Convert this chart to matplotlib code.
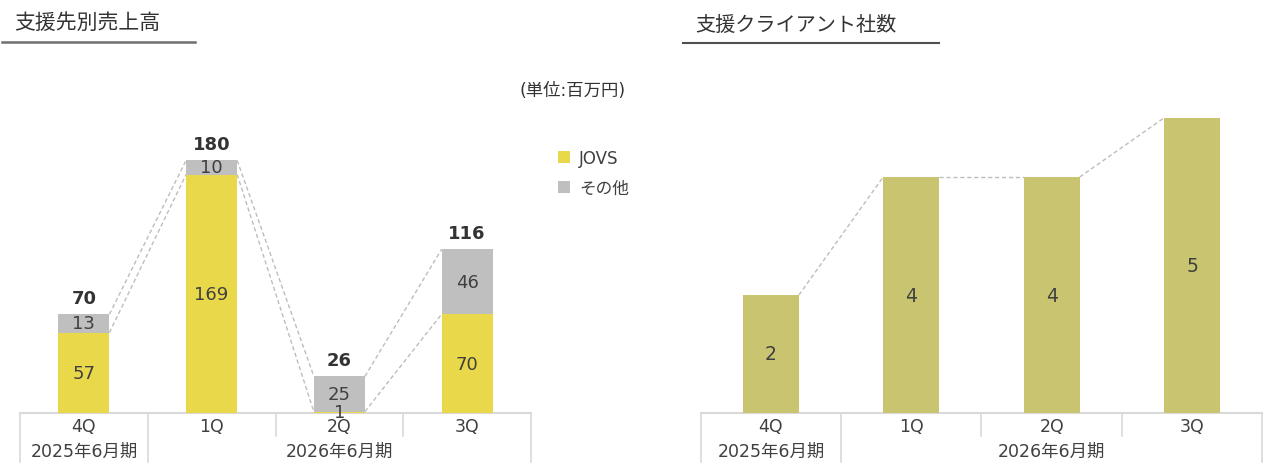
import matplotlib
matplotlib.use("Agg")
import matplotlib.pyplot as plt
import matplotlib.transforms as mtransforms
from matplotlib.lines import Line2D
import numpy as np

plt.rcParams['font.family'] = ['DejaVu Sans', 'Noto Sans CJK JP']

# data
quarters = ["4Q", "1Q", "2Q", "3Q"]
fiscal_years = ["2025年6月期", "2026年6月期"]
fy_groups = [[0], [1, 2, 3]]
jovs = [57, 169, 1, 70]
others = [13, 10, 25, 46]
totals = [70, 180, 26, 116]   # as printed (rounded)
clients = [2, 4, 4, 5]

YELLOW = "#E8D84A"
GRAY = "#BFBFBF"
OLIVE = "#C8C470"
TEXT = "#404040"
GRID = "#D9D9D9"

W, H = 1272, 477
fig = plt.figure(figsize=(W / 100, H / 100), dpi=100)

def fy(py):
    return 1 - py / H

BASE = 414

# left chart: 20..531 px, 1.411 px per unit
ax1 = fig.add_axes([20 / W, (H - BASE) / H, 511 / W, 200 * 254 / 180 / H])
ax1.set_xlim(-0.5, 3.5)
ax1.set_ylim(0, 200)
# right chart: 700.7..1262 px, 59 px per unit
ax2 = fig.add_axes([700.7 / W, (H - BASE) / H, 561.5 / W, 5.5 * 59 / H])
ax2.set_xlim(-0.5, 3.5)
ax2.set_ylim(0, 5.5)

for ax in (ax1, ax2):
    ax.axis("off")

x = np.arange(len(quarters))
bw = 0.4
tops = [a + b for a, b in zip(jovs, others)]

b1 = ax1.bar(x, jovs, width=bw, color=YELLOW, label="JOVS", zorder=3)
b2 = ax1.bar(x, others, width=bw, bottom=jovs, color=GRAY, label="その他", zorder=3)

for i in range(len(x)):
    ax1.text(x[i], jovs[i] / 2, str(jovs[i]), ha="center", va="center",
             fontsize=13, color=TEXT, zorder=5)
    ax1.text(x[i], jovs[i] + others[i] / 2, str(others[i]), ha="center", va="center",
             fontsize=13, color=TEXT, zorder=5)
    ax1.annotate(str(totals[i]), (x[i], tops[i]), xytext=(0, 5), textcoords="offset points",
                 ha="center", va="bottom", fontsize=13, fontweight="bold", color="#333333")

dash = dict(color="#BDBDBD", lw=1, ls=(0, (3, 2)), zorder=2)
for i in range(len(x) - 1):
    ax1.plot([x[i] + bw / 2, x[i + 1] - bw / 2], [tops[i], tops[i + 1]], **dash)
    ax1.plot([x[i] + bw / 2, x[i + 1] - bw / 2], [jovs[i], jovs[i + 1]], **dash)

ax2.bar(x, clients, width=bw, color=OLIVE, zorder=3)
for i in range(len(x)):
    ax2.text(x[i], clients[i] / 2, str(clients[i]), ha="center", va="center",
             fontsize=13.5, color=TEXT, zorder=5)
for i in range(len(x) - 1):
    ax2.plot([x[i] + bw / 2, x[i + 1] - bw / 2], [clients[i], clients[i + 1]], **dash)

# category table under each chart
for ax in (ax1, ax2):
    tr = mtransforms.blended_transform_factory(ax.transData, fig.transFigure)
    ax.add_line(Line2D([-0.5, 3.5], [fy(BASE)] * 2, transform=tr, color=GRID, lw=1.5, clip_on=False))
    for i, q in enumerate(quarters):
        ax.text(x[i], fy(427), q, transform=tr, ha="center", va="center", fontsize=12.5, color=TEXT)
    for g, label in zip(fy_groups, fiscal_years):
        ax.text(np.mean(g), fy(452), label, transform=tr, ha="center", va="center",
                fontsize=12.5, color=TEXT)
    starts = [g[0] - 0.5 for g in fy_groups] + [fy_groups[-1][-1] + 0.5]
    for b in np.arange(-0.5, 4.0, 1.0):
        bottom = 463 if b in starts else 437
        ax.add_line(Line2D([b, b], [fy(BASE), fy(bottom)], transform=tr, color=GRID,
                           lw=1.2, clip_on=False))

# titles with underline
fig.text(14 / W, fy(23), "支援先別売上高", fontsize=15, color="#333333", va="center")
fig.add_artist(Line2D([2 / W, 195 / W], [fy(43)] * 2, color="#707070", lw=1.8))
fig.text(695 / W, fy(25), "支援クライアント社数", fontsize=14.5, color="#333333", va="center")
fig.add_artist(Line2D([683 / W, 939 / W], [fy(44)] * 2, color="#505050", lw=1.5))

fig.text(626 / W, fy(91), "(単位:百万円)", fontsize=12.5, color="#333333", ha="right", va="center")

ax1.legend(handles=[b1, b2], loc="upper left", bbox_to_anchor=(558 / W, fy(150)),
           bbox_transform=fig.transFigure, frameon=False, fontsize=12,
           handlelength=0.7, handleheight=0.7, handletextpad=0.55, labelspacing=0.7,
           borderpad=0, borderaxespad=0, labelcolor=TEXT)

fig.savefig("out.png", dpi=100)
